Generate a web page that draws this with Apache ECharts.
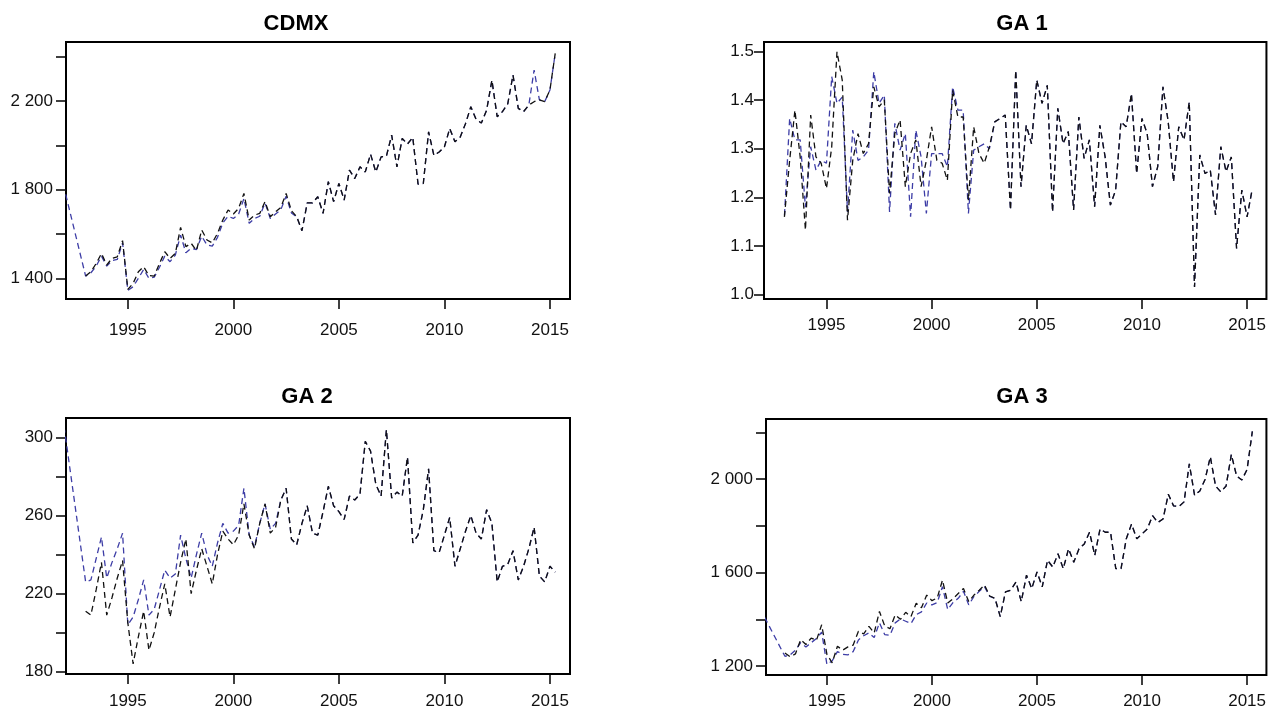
<!DOCTYPE html>
<html>
<head>
<meta charset="utf-8">
<script src="https://cdn.jsdelivr.net/npm/echarts@6/dist/echarts.min.js"></script>
<style>
html,body{margin:0;padding:0;background:#fff;}
#chart{width:1269px;height:710px;}
</style>
</head>
<body>
<div id="chart"></div>
<script>
// ---- time base: quarterly observations starting 1993 Q1; blue series have an extra 1992 value
const quarterStart = 1993;
const firstYear = 1992;

// ---- panel titles
const titles = ['CDMX', 'GA 1', 'GA 2', 'GA 3'];

// ---- tick values
const xTicks = [1995, 2000, 2005, 2010, 2015];
const cdmxTicks = [1400, 1600, 1800, 2000, 2200, 2400];
const cdmxLabels = [1400, 1800, 2200];
const ga1Ticks = [1.0, 1.1, 1.2, 1.3, 1.4, 1.5];
const ga2Ticks = [180, 200, 220, 240, 260, 280, 300];
const ga2Labels = [180, 220, 260, 300];
const ga3Ticks = [1200, 1400, 1600, 1800, 2000, 2200];
const ga3Labels = [1200, 1600, 2000];

// ---- CDMX
const cdmxBlack = [
1410,1430,1467,1512,1460,1490,1497,1570,1350,1377,
1430,1452,1412,1410,1467,1520,1490,1512,1630,1543,
1558,1525,1618,1573,1560,1603,1663,1708,1690,1716,
1783,1663,1685,1693,1746,1678,1700,1720,1783,1705,
1678,1615,1740,1740,1768,1693,1836,1746,1828,1753,
1888,1850,1903,1880,1960,1880,1948,1951,2046,1903,
2031,2006,2036,1825,1828,2061,1955,1970,1993,2076,
2016,2038,2098,2174,2117,2101,2159,2294,2129,2152,
2187,2317,2167,2152,2182,2197,2205,2197,2250,2415];
const cdmxBlue1992 = 1800;
const cdmxBlue = [
1410,1425,1455,1500,1455,1480,1485,1560,1345,1362,
1400,1440,1400,1405,1450,1500,1475,1505,1595,1515,
1535,1530,1590,1550,1545,1585,1650,1680,1670,1690,
1760,1648,1670,1680,1740,1670,1690,1710,1770,1695,
1678,1615,1740,1740,1768,1693,1836,1746,1828,1753,
1888,1850,1903,1880,1960,1880,1948,1951,2046,1903,
2031,2006,2036,1825,1828,2061,1955,1970,1993,2076,
2016,2038,2098,2174,2117,2101,2159,2294,2129,2152,
2187,2317,2167,2152,2182,2340,2205,2197,2250,2415];

// ---- GA 1
const ga1Black = [
1.160,1.276,1.379,1.283,1.133,1.369,1.283,1.270,1.218,1.304,
1.499,1.441,1.153,1.276,1.331,1.290,1.310,1.427,1.386,1.400,
1.208,1.331,1.359,1.222,1.290,1.318,1.222,1.276,1.345,1.276,
1.270,1.235,1.420,1.365,1.365,1.194,1.345,1.290,1.270,1.304,
1.355,1.362,1.369,1.174,1.461,1.222,1.348,1.310,1.441,1.393,
1.430,1.170,1.383,1.310,1.335,1.174,1.365,1.280,1.318,1.181,
1.348,1.283,1.184,1.215,1.355,1.345,1.413,1.249,1.362,1.331,
1.222,1.263,1.427,1.355,1.232,1.345,1.318,1.396,1.016,1.287,
1.249,1.256,1.164,1.304,1.253,1.283,1.095,1.215,1.160,1.218];
const ga1Blue = [
1.160,1.362,1.318,1.318,1.180,1.304,1.256,1.276,1.270,1.448,
1.393,1.406,1.170,1.338,1.276,1.283,1.297,1.458,1.393,1.410,
1.170,1.352,1.297,1.331,1.160,1.338,1.283,1.167,1.290,1.290,
1.290,1.263,1.427,1.379,1.379,1.167,1.297,1.304,1.310,1.300,
1.355,1.362,1.369,1.174,1.461,1.222,1.348,1.310,1.441,1.393,
1.430,1.170,1.383,1.310,1.335,1.174,1.365,1.280,1.318,1.181,
1.348,1.283,1.184,1.215,1.355,1.345,1.413,1.249,1.362,1.331,
1.222,1.263,1.427,1.355,1.232,1.345,1.318,1.396,1.016,1.287,
1.249,1.256,1.164,1.304,1.253,1.283,1.095,1.215,1.160,1.218];

// ---- GA 2
const ga2Black = [
211,209,222,236,209,218,228,237,205,184,
198,211,191,200,213,225,208,222,236,248,
220,232,243,234,225,240,252,248,245,250,
266,250,243,256,266,251,254,268,274,248,
245,256,265,251,250,262,275,265,262,258,
270,268,271,298,293,276,270,304,269,272,
270,290,246,250,263,284,242,241,250,259,
234,243,252,260,251,248,263,256,226,234,
235,242,227,234,243,254,229,226,234,231];
const ga2Blue1992 = 304;
const ga2Blue = [
226,227,238,249,228,236,243,251,204,208,
217,227,209,212,222,232,228,230,250,238,
228,240,251,240,234,246,256,251,252,255,
274,250,244,256,266,253,256,268,274,248,
245,256,265,251,250,262,275,265,262,258,
270,268,271,298,293,276,270,304,269,272,
270,290,246,250,263,284,242,241,250,259,
234,243,252,260,251,248,263,256,226,234,
235,242,227,234,243,254,229,226,234,231];

// ---- GA 3
const ga3Black = [
1256,1240,1252,1313,1292,1320,1310,1377,1250,1214,
1285,1268,1282,1290,1349,1338,1370,1342,1434,1372,
1360,1419,1400,1430,1412,1469,1450,1504,1480,1492,
1568,1470,1488,1511,1532,1476,1504,1525,1547,1500,
1490,1412,1518,1525,1560,1476,1589,1532,1603,1539,
1653,1624,1681,1617,1702,1645,1702,1723,1773,1674,
1787,1773,1773,1617,1617,1745,1808,1745,1766,1787,
1844,1815,1830,1936,1886,1883,1903,2066,1931,1950,
1999,2096,1971,1946,1971,2106,2014,1997,2042,2205];
const ga3Blue1992 = 1415;
const ga3Blue = [
1242,1248,1268,1300,1282,1300,1318,1345,1207,1222,
1262,1250,1248,1262,1312,1330,1342,1322,1385,1335,
1332,1385,1402,1392,1382,1420,1432,1470,1462,1472,
1540,1442,1472,1490,1520,1462,1498,1520,1540,1498,
1490,1412,1518,1525,1560,1476,1589,1532,1603,1539,
1653,1624,1681,1617,1702,1645,1702,1723,1773,1674,
1787,1773,1773,1617,1617,1745,1808,1745,1766,1787,
1844,1815,1830,1936,1886,1883,1903,2066,1931,1950,
1999,2096,1971,1946,1971,2106,2014,1997,2042,2205];

// ---- build
function quarterly(vals) { return vals.map((v, i) => [quarterStart + i / 4, v]); }
function withFirst(first, vals) {
  const d = quarterly(vals);
  if (first !== null) d.unshift([firstYear, first]);
  return d;
}
function sep(v) { return String(Math.round(v)).replace(/\B(?=(\d{3})+(?!\d))/g, ' '); }

const BLACK = '#111111';
const BLUE = '#3d3da6';
const FONT = '"Liberation Sans", Arial, sans-serif';
const DASH = [6, 4];

const panels = [
  { title: titles[0], tx: 296, ty: 24, grid: {left: 66, top: 42, width: 504, height: 257},
    xmin: 1992.07, xmax: 2015.95, ymin: 1306.6, ymax: 2466.3, yticks: cdmxTicks, ylabels: cdmxLabels,
    fmt: sep, black: quarterly(cdmxBlack), blue: withFirst(cdmxBlue1992, cdmxBlue), xMargin: 23, yMargin: 13 },
  { title: titles[1], tx: 1022, ty: 24, grid: {left: 764, top: 42, width: 504, height: 257},
    xmin: 1992.03, xmax: 2015.92, ymin: 0.9912, ymax: 1.5191, yticks: ga1Ticks, ylabels: ga1Ticks,
    fmt: v => v.toFixed(1), black: quarterly(ga1Black), blue: quarterly(ga1Blue), xMargin: 18, yMargin: 10 },
  { title: titles[2], tx: 307, ty: 396.5, grid: {left: 66, top: 418, width: 504, height: 257},
    xmin: 1992.07, xmax: 2015.95, ymin: 178.8, ymax: 310, yticks: ga2Ticks, ylabels: ga2Labels,
    fmt: sep, black: quarterly(ga2Black), blue: withFirst(ga2Blue1992, ga2Blue), xMargin: 19, yMargin: 13 },
  { title: titles[3], tx: 1022, ty: 396.7, grid: {left: 766, top: 419, width: 502, height: 258},
    xmin: 1992.1, xmax: 2015.92, ymin: 1161.8, ymax: 2257.9, yticks: ga3Ticks, ylabels: ga3Labels,
    fmt: sep, black: quarterly(ga3Black), blue: withFirst(ga3Blue1992, ga3Blue), xMargin: 18, yMargin: 13 }
];

const option = { animation: false, backgroundColor: '#fff', grid: [], xAxis: [], yAxis: [], series: [], graphic: [] };

panels.forEach((p, k) => {
  option.grid.push(Object.assign({ show: true, borderColor: '#000', borderWidth: 2, backgroundColor: 'transparent' }, p.grid));
  option.xAxis.push({
    type: 'value', gridIndex: k, min: p.xmin, max: p.xmax,
    axisLine: { show: false }, splitLine: { show: false },
    axisTick: { show: true, length: 10, lineStyle: { color: '#000', width: 1.5 }, customValues: xTicks },
    axisLabel: { show: true, customValues: xTicks, margin: p.xMargin, color: '#111', fontSize: 17, fontFamily: FONT,
                 formatter: v => String(v) }
  });
  option.yAxis.push({
    type: 'value', gridIndex: k, min: p.ymin, max: p.ymax,
    axisLine: { show: false }, splitLine: { show: false },
    axisTick: { show: true, length: 10, lineStyle: { color: '#000', width: 1.5 }, customValues: p.yticks },
    axisLabel: { show: true, customValues: p.ylabels, margin: p.yMargin, color: '#111', fontSize: 17, fontFamily: FONT,
                 formatter: p.fmt }
  });
  option.series.push({
    type: 'line', xAxisIndex: k, yAxisIndex: k, data: p.blue, showSymbol: false, clip: true, z: 2,
    lineStyle: { color: BLUE, width: 1.3, type: DASH }
  });
  option.series.push({
    type: 'line', xAxisIndex: k, yAxisIndex: k, data: p.black, showSymbol: false, clip: true, z: 3,
    lineStyle: { color: BLACK, width: 1.3, type: DASH }
  });
  option.graphic.push({
    type: 'text', x: p.tx, y: p.ty,
    style: { text: p.title, font: 'bold 22px ' + FONT, fill: '#000', align: 'center', verticalAlign: 'middle',
             textAlign: 'center', textVerticalAlign: 'middle' }
  });
});

const chart = echarts.init(document.getElementById('chart'), null, { renderer: 'canvas' });
chart.setOption(option);

// Align the blue dash phase with the black one from where the two series start to coincide,
// so overlapping stretches read as a dashed line (as in the original).
const period = DASH[0] + DASH[1];
const offsets = panels.map((p, k) => {
  const toPx = d => chart.convertToPixel({ gridIndex: k }, d);
  const pathLen = (data, upto) => {
    let L = 0;
    for (let j = 1; j <= upto; j++) {
      const a = toPx(data[j - 1]), b = toPx(data[j]);
      L += Math.hypot(b[0] - a[0], b[1] - a[1]);
    }
    return L;
  };
  const extra = p.blue.length - p.black.length;
  const same = j => p.black[j][1] === p.blue[j + extra][1];
  let start = 0;
  for (let j = 0; j < p.black.length - 6; j++) {
    let ok = true;
    for (let m = 0; m < 6; m++) if (!same(j + m)) { ok = false; break; }
    if (ok) { start = j; break; }
  }
  const diff = pathLen(p.black, start) - pathLen(p.blue, start + extra);
  return ((diff % period) + period) % period;
});
chart.setOption({
  series: option.series.map((s, idx) => idx % 2 === 0
    ? { lineStyle: { dashOffset: offsets[idx / 2] } }
    : {})
});
</script>
</body>
</html>
